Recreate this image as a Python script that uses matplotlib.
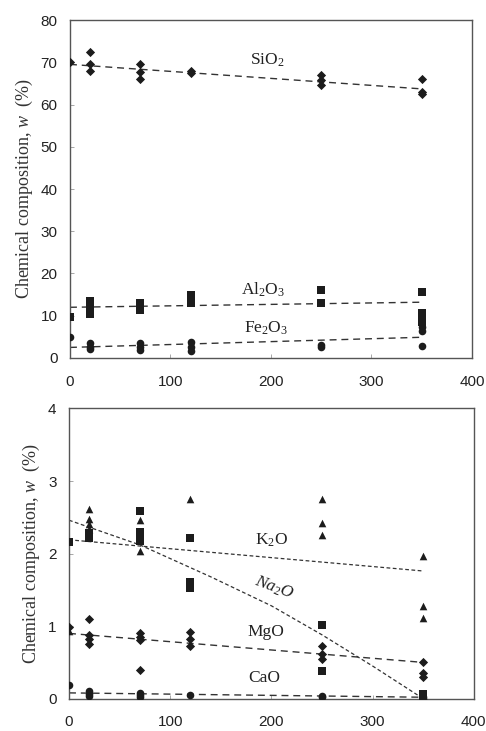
import numpy as np
import matplotlib.pyplot as plt

# datos
dias = [0, 20, 70, 120, 250, 350]

sio2 = [[70.0], [72.5, 69.5, 68.0], [69.7, 67.8, 66.0], [68.0, 67.5],
        [67.1, 65.8, 64.6], [66.0, 63.0, 62.6]]
al2o3 = [[9.8], [13.5, 12.5, 11.5, 10.5], [13.0, 12.0, 11.3], [15.0, 14.0, 13.0],
         [16.1, 12.9], [15.5, 10.6, 9.6, 8.6]]
fe2o3 = [[5.0], [3.6, 2.6, 2.2], [3.5, 2.7, 1.9], [3.8, 2.6, 1.7],
         [3.1, 2.6], [7.3, 6.5, 2.9]]

k2o = [[0.93], [2.61, 2.48, 2.41, 2.34], [2.46, 2.04], [2.75],
       [2.75, 2.42, 2.26], [1.97, 1.28, 1.11]]
na2o = [[2.16], [2.28, 2.21], [2.59, 2.3, 2.24, 2.18], [2.21, 1.61, 1.52],
        [1.02, 0.38], [0.07, 0.01]]
mgo = [[0.99], [1.10, 0.88, 0.82, 0.76], [0.90, 0.85, 0.81, 0.40], [0.92, 0.82, 0.73],
       [0.73, 0.61, 0.55], [0.50, 0.35, 0.30]]
cao = [[0.19], [0.10, 0.07, 0.04], [0.08, 0.05, 0.02], [0.05],
       [0.04, 0.02], [0.02, 0.0]]

# lineas de tendencia (valor en x=0 y en x=350)
t_x = [0, 350]
t_sio2 = [69.5, 63.7]
t_al2o3 = [12.0, 13.2]
t_fe2o3 = [2.5, 4.9]
t_k2o = [2.19, 1.76]
t_mgo = [0.90, 0.50]
t_cao = [0.08, 0.02]
t_na_x = [0, 70, 140, 200, 250, 300, 350]
t_na2o = [2.46, 2.12, 1.68, 1.28, 0.88, 0.45, 0.0]

col = '#1c1c1c'
serif = 'Liberation Serif'
plt.rcParams['font.family'] = ['Liberation Sans', 'DejaVu Sans']
plt.rcParams['mathtext.fontset'] = 'custom'
plt.rcParams['mathtext.rm'] = 'Liberation Serif'
plt.rcParams['mathtext.it'] = 'Liberation Serif:italic'


def puntos(ax, datos, marca, tam):
    xx = []
    yy = []
    for i in range(len(dias)):
        for v in datos[i]:
            xx.append(dias[i])
            yy.append(v)
    ax.scatter(xx, yy, marker=marca, s=tam, color=col, zorder=3, linewidths=0)


def marco(ax):
    for s in ax.spines.values():
        s.set_color('#555555')
        s.set_linewidth(1.0)
    ax.tick_params(direction='in', length=3, width=0.6, color='#999999',
                   labelsize=11, labelcolor='#222222')
    ax.tick_params(axis='x', pad=12)
    ax.tick_params(axis='y', pad=9)
    ax.set_ylabel('Chemical composition, $w$  (%)', family=serif, fontsize=13,
                  color='#333333', labelpad=4)


fig = plt.figure(figsize=(4.86, 7.31), dpi=100)

# ---------- panel superior ----------
ax1 = fig.add_axes([0.144, 0.5103, 0.827, 0.4623])
puntos(ax1, sio2, 'D', 22)
puntos(ax1, al2o3, 's', 30)
puntos(ax1, fe2o3, 'o', 30)
for t in [t_sio2, t_al2o3, t_fe2o3]:
    ax1.plot(t_x, t, ls=(0, (5, 3.5)), lw=1.0, color='#333333', zorder=2)
ax1.set_xlim(0, 400)
ax1.set_ylim(0, 80)
ax1.set_xticks([0, 100, 200, 300, 400])
ax1.set_yticks(np.arange(0, 90, 10))
ax1.text(196, 70.5, 'SiO$_2$', family=serif, fontsize=12.5, ha='center', va='center', color='#222222')
ax1.text(192, 16.2, 'Al$_2$O$_3$', family=serif, fontsize=12.5, ha='center', va='center', color='#222222')
ax1.text(195, 7.1, 'Fe$_2$O$_3$', family=serif, fontsize=12.5, ha='center', va='center', color='#222222')
marco(ax1)

# ---------- panel inferior ----------
ax2 = fig.add_axes([0.142, 0.0442, 0.833, 0.397])
puntos(ax2, k2o, '^', 30)
puntos(ax2, na2o, 's', 30)
puntos(ax2, mgo, 'D', 22)
puntos(ax2, cao, 'o', 30)
ax2.plot(t_x, t_k2o, ls=(0, (3, 2)), lw=0.9, color='#333333', zorder=2)
ax2.plot(t_na_x, t_na2o, ls=(0, (3, 2)), lw=0.9, color='#333333', zorder=2)
ax2.plot(t_x, t_mgo, ls=(0, (5, 3.5)), lw=1.0, color='#333333', zorder=2)
ax2.plot(t_x, t_cao, ls=(0, (5, 3.5)), lw=1.0, color='#333333', zorder=2)
ax2.set_xlim(0, 400)
ax2.set_ylim(0, 4)
ax2.set_xticks([0, 100, 200, 300, 400])
ax2.set_yticks([0, 1, 2, 3, 4])
ax2.text(200, 2.19, 'K$_2$O', family=serif, fontsize=12.5, ha='center', va='center', color='#222222')
ax2.text(203, 1.53, '$\\mathit{Na_2O}$', family=serif, fontsize=12.5, ha='center', va='center',
         rotation=-20, color='#222222')
ax2.text(195, 0.92, 'MgO', family=serif, fontsize=12.5, ha='center', va='center', color='#222222')
ax2.text(193, 0.29, 'CaO', family=serif, fontsize=12.5, ha='center', va='center', color='#222222')
marco(ax2)

fig.savefig('out.png', dpi=100)
